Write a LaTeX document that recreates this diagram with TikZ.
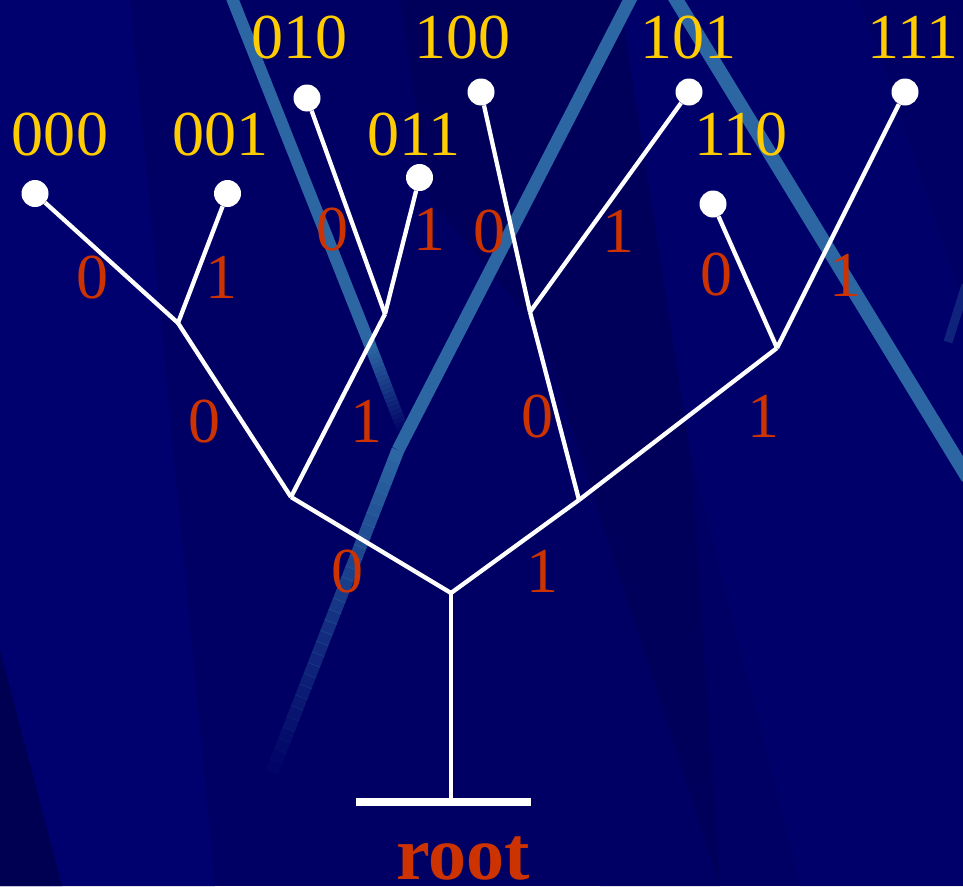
\documentclass[tikz,border=0pt]{standalone}
\usepackage{fontspec}
\setmainfont{Liberation Serif}
\usetikzlibrary{calc}
\definecolor{bgnavy}{HTML}{000064}
\definecolor{bgpanel}{HTML}{00006E}
\definecolor{bgdeep}{HTML}{000052}
\definecolor{streak}{HTML}{2C66A3}
\definecolor{codegold}{HTML}{FFCC00}
\definecolor{bitred}{HTML}{CC3300}
\begin{document}
\begin{tikzpicture}[x=1pt,y=-1pt,
  branch/.style={draw=white, line width=4.3pt},
  leaf/.style={circle, fill=white, minimum size=27pt, inner sep=0pt},
  code/.style={text=codegold, font=\fontsize{64}{64}\selectfont, anchor=base, inner sep=0pt},
  bit/.style={text=bitred, font=\fontsize{64}{64}\selectfont, anchor=base, inner sep=0pt},
  rootlabel/.style={text=bitred, font=\fontsize{76}{76}\selectfont\bfseries, anchor=base, inner sep=0pt},
  basebar/.style={fill=white, minimum width=175pt, minimum height=8pt, inner sep=0pt},
]
% ---- background ----
\useasboundingbox (0,0) rectangle (963,886);
\fill[bgnavy] (0,0) rectangle (963,886);
\fill[bgpanel] (0,0) -- (130,0) -- (215,886) -- (0,886) -- cycle;
\fill[bgdeep] (0,650) -- (62,886) -- (0,886) -- cycle;
\fill[bgdeep, opacity=0.45] (400,0) -- (620,0) -- (690,450) -- (720,886) -- (600,886) -- (430,200) -- cycle;
\fill[bgpanel, opacity=0.6] (620,0) -- (860,0) -- (963,300) -- (963,886) -- (800,886) -- (690,450) -- cycle;
\fill[bgpanel, opacity=0.5] (430,200) -- (600,886) -- (720,886) -- (540,330) -- cycle;

% light streaks
\draw[streak, line width=12pt] (228,-12) -- (370,345);
\foreach \i in {0,...,19}{
  \pgfmathsetmacro\ta{\i/20}
  \pgfmathsetmacro\tb{(\i+1.05)/20}
  \pgfmathsetmacro\op{1-\i/20}
  \draw[streak, line width=12pt, opacity=\op]
    ($(370,345)!\ta!(403,430)$) -- ($(370,345)!\tb!(403,430)$);
}
\draw[streak, line width=13pt] (636,-12) -- (398,450);
\foreach \i in {0,...,29}{
  \pgfmathsetmacro\ta{\i/30}
  \pgfmathsetmacro\tb{(\i+1.05)/30}
  \pgfmathsetmacro\op{1-\i/30}
  \draw[streak, line width=13pt, opacity=\op]
    ($(398,450)!\ta!(272,772)$) -- ($(398,450)!\tb!(272,772)$);
}
\draw[streak, line width=14pt] (669,-12) -- (968,478);
\draw[streak, line width=9pt, opacity=0.35] (966,285) -- (948,342);

% ---- tree ----
\coordinate (j0)   at (291,497);
\coordinate (j1)   at (579,500);
\coordinate (j00)  at (178,323);
\coordinate (j01)  at (385,314);
\coordinate (j10)  at (530,312);
\coordinate (j11)  at (777,348);
\coordinate (jroot) at (451,593);

\node[leaf] (l000) at (35,193.5) {};
\node[leaf] (l001) at (227.5,193.5) {};
\node[leaf] (l010) at (307,98) {};
\node[leaf] (l011) at (419.5,177.5) {};
\node[leaf] (l100) at (481,92) {};
\node[leaf] (l101) at (689,92) {};
\node[leaf] (l110) at (713,204) {};
\node[leaf] (l111) at (905,92) {};

\node[basebar] (base) at (443.5,802) {};

\draw[branch] (jroot) -- (jroot |- base.north);
\draw[branch] (jroot) -- (j0);
\draw[branch] (jroot) -- (j1);
\draw[branch] (j0) -- (j00);
\draw[branch] (j0) -- (j01);
\draw[branch] (j1) -- (j10);
\draw[branch] (j1) -- (j11);
\draw[branch] (j00) -- (l000);
\draw[branch] (j00) -- (l001);
\draw[branch] (j01) -- (l010);
\draw[branch] (j01) -- (l011);
\draw[branch] (j10) -- (l100);
\draw[branch] (j10) -- (l101);
\draw[branch] (j11) -- (l110);
\draw[branch] (j11) -- (l111);

% leaf codes
\node[code] (c000) at (60,155) {000};
\node[code] (c001) at (220,155) {001};
\node[code] (c010) at (299,58) {010};
\node[code] (c011) at (414,155) {011};
\node[code] (c100) at (462,58) {100};
\node[code] (c101) at (688,58) {101};
\node[code] (c110) at (741,155) {110};
\node[code] (c111) at (913,58) {111};

% branch bits
\node[bit] (b000) at (92,298) {0};
\node[bit] (b001) at (221,298) {1};
\node[bit] (b010) at (332,250) {0};
\node[bit] (b011) at (429,250) {1};
\node[bit] (b100) at (489,252) {0};
\node[bit] (b101) at (618,252) {1};
\node[bit] (b110) at (716,295) {0};
\node[bit] (b111) at (845,296) {1};
\node[bit] (b00) at (204,442) {0};
\node[bit] (b01) at (366,442) {1};
\node[bit] (b10) at (537,437) {0};
\node[bit] (b11) at (763,437) {1};
\node[bit] (b0) at (347,592) {0};
\node[bit] (b1) at (542,592) {1};

\node[rootlabel] (rootname) at (463,879) {root};
\end{tikzpicture}
\end{document}
